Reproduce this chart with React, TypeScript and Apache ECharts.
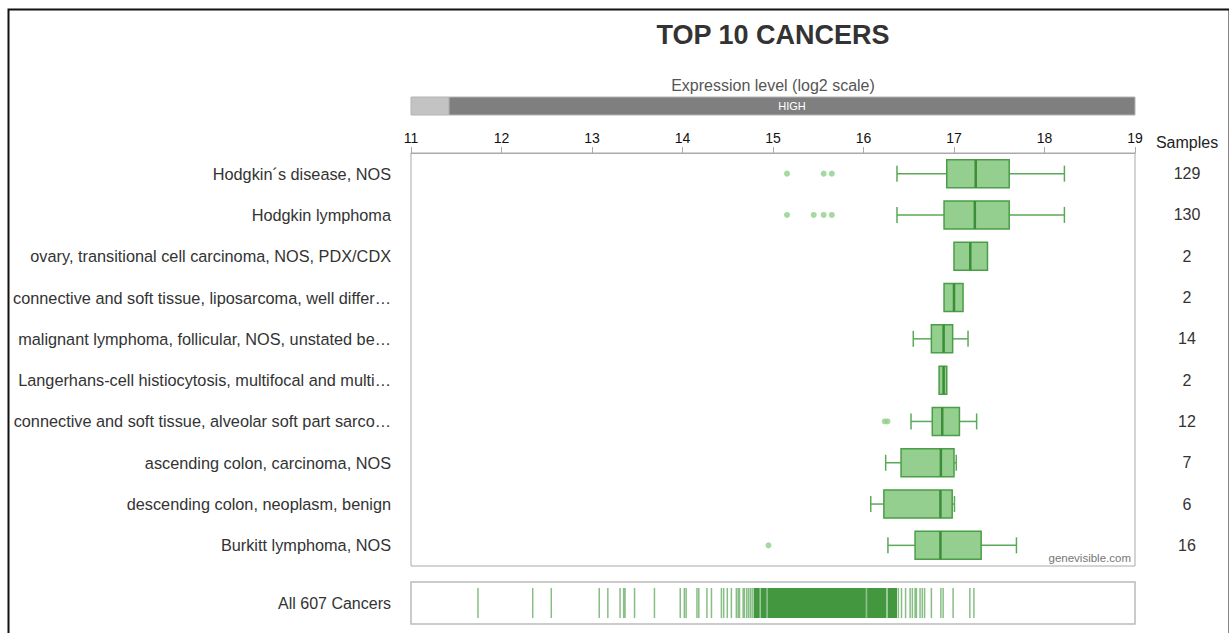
import { useEffect, useRef } from "react";
import * as echarts from "echarts";

// Cancer types, top to bottom
const categories = [
  "Hodgkin´s disease, NOS",
  "Hodgkin lymphoma",
  "ovary, transitional cell carcinoma, NOS, PDX/CDX",
  "connective and soft tissue, liposarcoma, well differ…",
  "malignant lymphoma, follicular, NOS, unstated be…",
  "Langerhans-cell histiocytosis, multifocal and multi…",
  "connective and soft tissue, alveolar soft part sarco…",
  "ascending colon, carcinoma, NOS",
  "descending colon, neoplasm, benign",
  "Burkitt lymphoma, NOS",
];

const sampleCounts = [129, 130, 2, 2, 14, 2, 12, 7, 6, 16];

// [min, q1, median, q3, max] in log2 expression
const boxStats = [
  [16.37, 16.92, 17.24, 17.61, 18.22],
  [16.37, 16.89, 17.23, 17.61, 18.22],
  [17.0, 17.0, 17.18, 17.37, 17.37],
  [16.89, 16.89, 17.0, 17.1, 17.1],
  [16.55, 16.75, 16.885, 16.985, 17.155],
  [16.835, 16.835, 16.885, 16.92, 16.92],
  [16.525, 16.76, 16.87, 17.06, 17.25],
  [16.245, 16.415, 16.855, 17.0, 17.025],
  [16.08, 16.225, 16.85, 16.98, 17.005],
  [16.27, 16.57, 16.85, 17.3, 17.69],
];

// [category index, value]
const outliers = [
  [0, 15.155],
  [0, 15.56],
  [0, 15.65],
  [1, 15.155],
  [1, 15.45],
  [1, 15.56],
  [1, 15.65],
  [6, 16.235],
  [6, 16.265],
  [9, 14.95],
];

// Median expression of every cancer type (rug strip)
const allCancerTicks = [
  11.74, 12.345, 12.55, 13.08, 13.175, 13.31, 13.35, 13.365, 13.47, 13.69,
  13.975, 14.02, 14.04, 14.16, 14.18, 14.27, 14.32, 14.43, 14.455, 14.495,
  14.54, 14.595, 14.615, 14.63, 14.67, 14.685, 14.71, 14.73, 14.75, 14.77,
  14.855, 14.94, 16.03, 16.26, 16.385, 16.42, 16.465, 16.515, 16.54, 16.57,
  16.585, 16.625, 16.65, 16.675, 16.75, 16.855, 16.88, 16.99, 17.175, 17.22,
];

// Stretches where the rug ticks overlap completely
const allCancerSolidRanges = [
  [14.785, 14.85],
  [14.865, 14.93],
  [14.945, 16.025],
  [16.04, 16.25],
  [16.27, 16.37],
];

// Expression level bands of the header scale
const levelBands = [
  [11, 11.42],
  [11.42, 19],
];
const levelLabels = ["", "HIGH"];

const axisMin = 11;
const axisMax = 19;
const axisStep = 1;

const FONT = "'Liberation Sans', Arial, Helvetica, sans-serif";
const GREEN_FILL = "#95cf8f";
const GREEN_EDGE = "#4a9e47";
const GREEN_DARK = "#3b8d37";
const GREEN_WHISKER = "#5aa957";

function renderBox(params: any, api: any) {
  const cat = api.value(0);
  const lo = api.coord([api.value(1), cat]);
  const q1 = api.coord([api.value(2), cat]);
  const med = api.coord([api.value(3), cat]);
  const q3 = api.coord([api.value(4), cat]);
  const hi = api.coord([api.value(5), cat]);
  const cy = q1[1];
  const halfBox = 14;
  const halfCap = 8;
  const children: any[] = [];
  if (api.value(1) < api.value(2)) {
    children.push(
      { type: "line", shape: { x1: lo[0], y1: cy, x2: q1[0], y2: cy }, style: { stroke: GREEN_WHISKER, lineWidth: 1.5 } },
      { type: "line", shape: { x1: lo[0], y1: cy - halfCap, x2: lo[0], y2: cy + halfCap }, style: { stroke: GREEN_WHISKER, lineWidth: 1.5 } }
    );
  }
  if (api.value(5) > api.value(4)) {
    children.push(
      { type: "line", shape: { x1: q3[0], y1: cy, x2: hi[0], y2: cy }, style: { stroke: GREEN_WHISKER, lineWidth: 1.5 } },
      { type: "line", shape: { x1: hi[0], y1: cy - halfCap, x2: hi[0], y2: cy + halfCap }, style: { stroke: GREEN_WHISKER, lineWidth: 1.5 } }
    );
  }
  children.push(
    {
      type: "rect",
      shape: { x: q1[0], y: cy - halfBox, width: q3[0] - q1[0], height: halfBox * 2 },
      style: { fill: GREEN_FILL, stroke: GREEN_EDGE, lineWidth: 1.5 },
    },
    {
      type: "line",
      shape: { x1: med[0], y1: cy - halfBox, x2: med[0], y2: cy + halfBox },
      style: { stroke: GREEN_DARK, lineWidth: 2.5 },
    }
  );
  return { type: "group", children };
}

function renderTick(params: any, api: any) {
  const p = api.coord([api.value(0), 0]);
  const h = api.size([0, 1])[1];
  return {
    type: "rect",
    shape: { x: p[0] - 0.75, y: p[1] - h / 2 + 6, width: 1.5, height: h - 12 },
    style: { fill: "rgba(62,150,58,0.62)" },
  };
}

function renderSolid(params: any, api: any) {
  const a = api.coord([api.value(0), 0]);
  const b = api.coord([api.value(1), 0]);
  const h = api.size([0, 1])[1];
  return {
    type: "rect",
    shape: { x: a[0], y: a[1] - h / 2 + 6, width: b[0] - a[0], height: h - 12 },
    style: { fill: "#43973f" },
  };
}

function renderLevel(params: any, api: any) {
  const a = api.coord([api.value(0), 0]);
  const b = api.coord([api.value(1), 0]);
  const h = api.size([0, 1])[1];
  const label = levelLabels[params.dataIndex];
  const children: any[] = [
    {
      type: "rect",
      shape: { x: a[0], y: a[1] - h / 2, width: b[0] - a[0], height: h },
      style: { fill: params.dataIndex === 0 ? "#c3c3c3" : "#7f7f7f", stroke: "#b4b4b4", lineWidth: 1 },
    },
  ];
  if (label) {
    children.push({
      type: "text",
      x: (a[0] + b[0]) / 2,
      y: a[1],
      style: { text: label, fill: "#ffffff", fontSize: 11, fontFamily: FONT, align: "center", verticalAlign: "middle" },
    });
  }
  return { type: "group", children };
}

export default function App() {
  const ref = useRef<HTMLDivElement>(null);

  useEffect(() => {
    const chart = echarts.init(ref.current!, null, { renderer: "svg" });
    const option: any = {
      animation: false,
      backgroundColor: "#ffffff",
      textStyle: { fontFamily: FONT },
      grid: [
        { left: 411, top: 153, width: 724, height: 413, show: true, borderColor: "#aaaaaa", borderWidth: 1 },
        { left: 411, top: 582, width: 724, height: 42, show: true, borderColor: "#bbbbbb", borderWidth: 1.5 },
        { left: 411, top: 97, width: 724, height: 18 },
      ],
      xAxis: [
        {
          gridIndex: 0,
          type: "value",
          min: axisMin,
          max: axisMax,
          interval: axisStep,
          position: "top",
          axisLine: { show: true, lineStyle: { color: "#aaaaaa", width: 1 } },
          axisTick: { show: true, length: 6, lineStyle: { color: "#aaaaaa" } },
          axisLabel: { color: "#111111", fontSize: 14, fontFamily: FONT, margin: 8 },
          splitLine: { show: false },
        },
        { gridIndex: 1, type: "value", min: axisMin, max: axisMax, show: false },
        { gridIndex: 2, type: "value", min: axisMin, max: axisMax, show: false },
      ],
      yAxis: [
        {
          gridIndex: 0,
          type: "category",
          data: categories,
          inverse: true,
          axisLine: { show: false },
          axisTick: { show: false },
          axisLabel: { interval: 0, color: "#333333", fontSize: 16.3, fontFamily: FONT, margin: 20 },
        },
        {
          gridIndex: 0,
          type: "category",
          data: sampleCounts.map(String),
          inverse: true,
          position: "right",
          axisLine: { show: false },
          axisTick: { show: false },
          axisLabel: { interval: 0, color: "#333333", fontSize: 16, fontFamily: FONT, margin: 52, align: "center" },
        },
        {
          gridIndex: 1,
          type: "category",
          data: ["All 607 Cancers"],
          axisLine: { show: false },
          axisTick: { show: false },
          axisLabel: { color: "#333333", fontSize: 16, fontFamily: FONT, margin: 20 },
        },
        { gridIndex: 2, type: "category", data: ["level"], show: false },
      ],
      series: [
        {
          type: "custom",
          xAxisIndex: 0,
          yAxisIndex: 0,
          renderItem: renderBox,
          encode: { x: [1, 2, 3, 4, 5], y: 0 },
          data: boxStats.map((s, i) => [i, ...s]),
          z: 3,
        },
        {
          type: "scatter",
          xAxisIndex: 0,
          yAxisIndex: 0,
          symbol: "circle",
          symbolSize: 6,
          itemStyle: { color: "#8fcf89" },
          data: outliers.map(([i, v]) => [v, i]),
          z: 2,
        },
        {
          type: "custom",
          xAxisIndex: 1,
          yAxisIndex: 2,
          renderItem: renderSolid,
          encode: { x: [0, 1], y: 2 },
          data: allCancerSolidRanges.map(([a, b]) => [a, b, 0]),
        },
        {
          type: "custom",
          xAxisIndex: 1,
          yAxisIndex: 2,
          renderItem: renderTick,
          encode: { x: 0, y: 1 },
          data: allCancerTicks.map((v) => [v, 0]),
        },
        {
          type: "custom",
          xAxisIndex: 2,
          yAxisIndex: 3,
          renderItem: renderLevel,
          encode: { x: [0, 1], y: 2 },
          data: levelBands.map(([a, b]) => [a, b, 0]),
        },
      ],
      graphic: [
        {
          type: "rect",
          left: 6,
          top: 7,
          shape: { x: 0, y: 0, width: 1221, height: 660 },
          style: { fill: "none", stroke: "#111111", lineWidth: 2 },
          silent: true,
        },
        {
          type: "text",
          x: 773,
          y: 35,
          style: { text: "TOP 10 CANCERS", fill: "#333333", fontSize: 27, fontWeight: "bold", fontFamily: FONT, align: "center", verticalAlign: "middle" },
        },
        {
          type: "text",
          x: 773,
          y: 85,
          style: { text: "Expression level (log2 scale)", fill: "#555555", fontSize: 16, fontFamily: FONT, align: "center", verticalAlign: "middle" },
        },
        {
          type: "text",
          x: 1187,
          y: 142,
          style: { text: "Samples", fill: "#222222", fontSize: 16, fontFamily: FONT, align: "center", verticalAlign: "middle" },
        },
        {
          type: "text",
          x: 1131,
          y: 558,
          style: { text: "genevisible.com", fill: "#777777", fontSize: 11.5, fontFamily: FONT, align: "right", verticalAlign: "middle" },
        },
      ],
    };
    chart.setOption(option);
    return () => chart.dispose();
  }, []);

  return (
    <div
      ref={ref}
      style={{ position: "absolute", left: 0, top: 0, width: 1229, height: 633, background: "#ffffff" }}
    />
  );
}
